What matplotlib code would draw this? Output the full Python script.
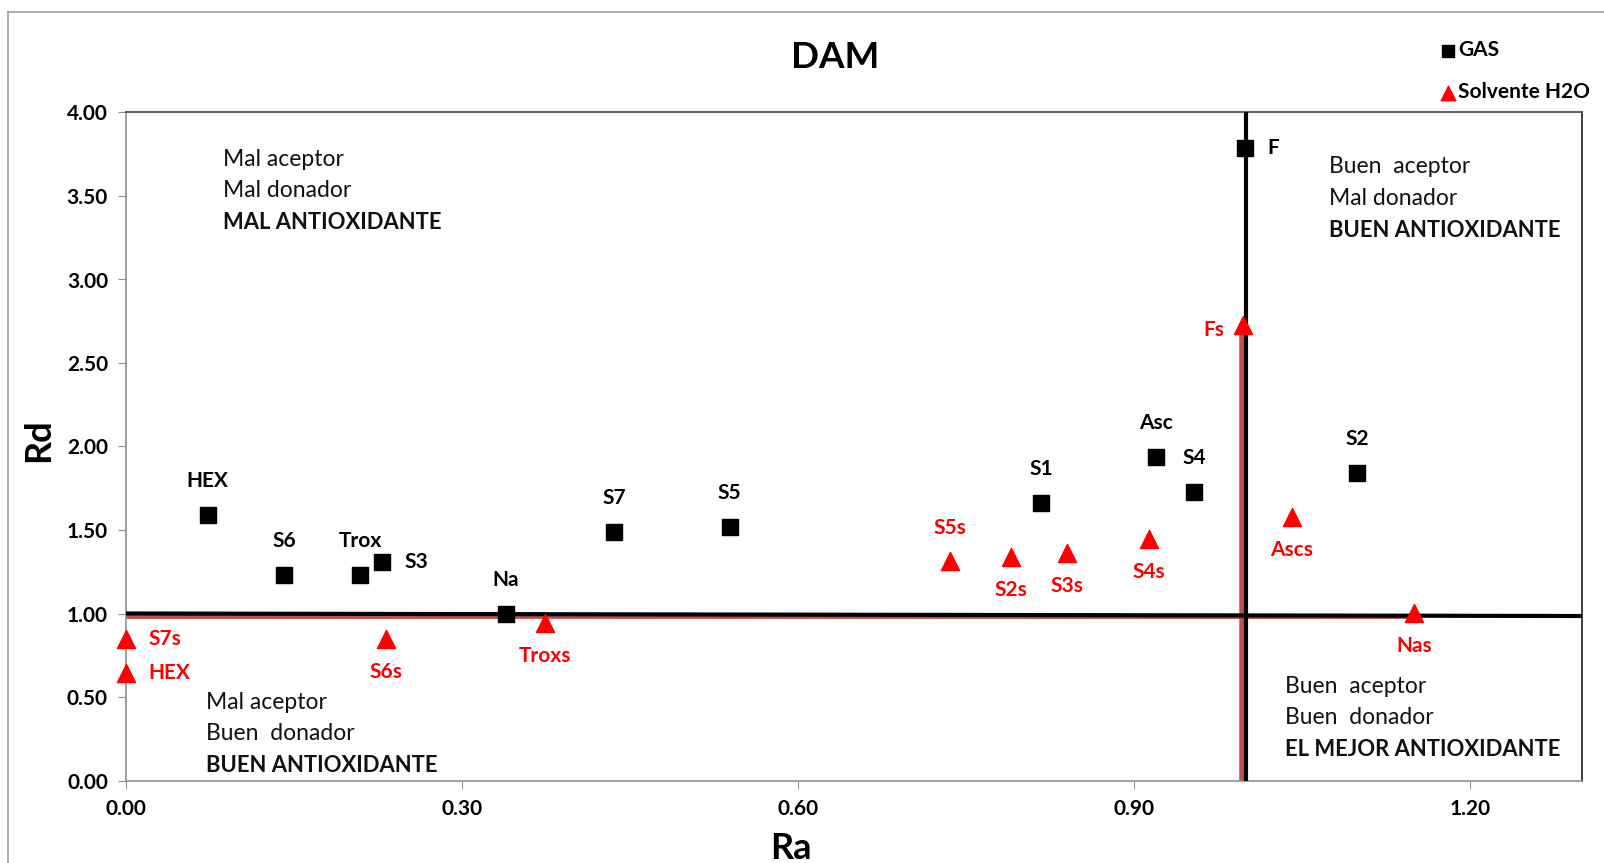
import matplotlib
matplotlib.use('Agg')
import matplotlib.pyplot as plt
from matplotlib.lines import Line2D

plt.rcParams['font.family'] = ['Lato', 'DejaVu Sans']

# datos (Ra, Rd)
gas_names = ['HEX', 'S6', 'Trox', 'S3', 'Na', 'S7', 'S5', 'S1', 'Asc', 'S4', 'S2', 'F']
gas_ra = [0.073, 0.141, 0.209, 0.229, 0.339, 0.436, 0.539, 0.817, 0.920, 0.954, 1.099, 0.999]
gas_rd = [1.59, 1.23, 1.23, 1.31, 1.00, 1.49, 1.52, 1.66, 1.94, 1.73, 1.84, 3.79]

h2o_names = ['S7s', 'HEX', 'S6s', 'Troxs', 'S5s', 'S2s', 'S3s', 'S4s', 'Ascs', 'Nas', 'Fs']
h2o_ra = [0.0, 0.0, 0.232, 0.374, 0.736, 0.790, 0.840, 0.913, 1.041, 1.150, 0.997]
h2o_rd = [0.845, 0.643, 0.845, 0.943, 1.317, 1.341, 1.360, 1.446, 1.580, 1.005, 2.726]

x_ticks = [0.0, 0.3, 0.6, 0.9, 1.2]
y_ticks = [0.0, 0.5, 1.0, 1.5, 2.0, 2.5, 3.0, 3.5, 4.0]

# posicion de las etiquetas (offset en pixeles)
gas_off = {'S3': (22, 0, 'left'), 'F': (22, 0, 'left')}
h2o_off = {'S7s': (22, 0, 'left'), 'HEX': (22, 0, 'left'),
           'S5s': (0, 33, 'center'), 'Fs': (-18, -5, 'right')}

fig = plt.figure(figsize=(16.04, 8.63), dpi=100)
ax = fig.add_axes([126 / 1604, 1 - 780.5 / 863, (1582 - 126) / 1604, (780.5 - 112.5) / 863])

# marco exterior
fig.add_artist(Line2D([8 / 1604, 8 / 1604], [0, 1 - 12 / 863], transform=fig.transFigure,
                      color='#a0a0a0', lw=1.2))
fig.add_artist(Line2D([8 / 1604, 1], [1 - 12 / 863, 1 - 12 / 863], transform=fig.transFigure,
                      color='#a0a0a0', lw=1.2))

# lineas de referencia Ra=1, Rd=1
ax.plot([0, 1.15], [0.985, 0.985], color='#b83030', lw=3.5, zorder=2, alpha=0.85)
ax.plot([0.996, 0.996], [0, 2.72], color='#b83030', lw=4, zorder=2, alpha=0.85)
ax.plot([0, 1.3], [1.0, 0.985], color='black', lw=3, zorder=3)
ax.plot([1.0, 1.0], [0, 4.0], color='black', lw=3, zorder=3)

ax.scatter(gas_ra, gas_rd, marker='s', s=130, color='black', zorder=5, label='GAS')
ax.scatter(h2o_ra, h2o_rd, marker='^', s=170, color='#ff0000', zorder=5, label='Solvente H2O',
           clip_on=False)

for n, x, y in zip(gas_names, gas_ra, gas_rd):
    dx, dy, ha = gas_off.get(n, (0, 34, 'center'))
    ax.annotate(n, (x, y), xytext=(dx, dy), textcoords='offset pixels', ha=ha, va='center',
                fontsize=15, fontweight='bold', color='black')
for n, x, y in zip(h2o_names, h2o_ra, h2o_rd):
    dx, dy, ha = h2o_off.get(n, (0, -33, 'center'))
    ax.annotate(n, (x, y), xytext=(dx, dy), textcoords='offset pixels', ha=ha, va='center',
                fontsize=15, fontweight='bold', color='#ff0000')

# textos de cuadrantes
quad = [
    (0.087, [3.72, 3.53, 3.34], ['Mal aceptor', 'Mal donador', 'MAL ANTIOXIDANTE']),
    (1.074, [3.675, 3.485, 3.295], ['Buen  aceptor', 'Mal donador', 'BUEN ANTIOXIDANTE']),
    (0.071, [0.47, 0.28, 0.09], ['Mal aceptor', 'Buen  donador', 'BUEN ANTIOXIDANTE']),
    (1.035, [0.565, 0.375, 0.185], ['Buen  aceptor', 'Buen  donador', 'EL MEJOR ANTIOXIDANTE']),
]
for x, ys, txts in quad:
    for i, (y, t) in enumerate(zip(ys, txts)):
        ax.text(x, y, t, fontsize=15.8 if i == 2 else 16.5, va='center', ha='left',
                color='#111111', fontweight='bold' if i == 2 else 'normal')

ax.set_xlim(0, 1.3)
ax.set_ylim(0, 4.0)
ax.set_xticks(x_ticks)
ax.set_yticks(y_ticks)
ax.set_xticklabels([f'{v:.2f}' for v in x_ticks], fontweight='bold', fontsize=15)
ax.set_yticklabels([f'{v:.2f}' for v in y_ticks], fontweight='bold', fontsize=15)
ax.tick_params(axis='both', direction='out', length=6, color='#909090', pad=7)

for s in ['left', 'bottom']:
    ax.spines[s].set_color('#909090')
    ax.spines[s].set_linewidth(1.2)
ax.spines['top'].set_color('#505050')
ax.spines['right'].set_color('#303030')
ax.spines['top'].set_linewidth(1.3)
ax.spines['right'].set_linewidth(1.3)

fig.text(791 / 1604, 1 - 848 / 863, 'Ra', fontsize=26, fontweight='bold', ha='center', va='center')
fig.text(39 / 1604, 1 - 440 / 863, 'Rd', fontsize=26, fontweight='bold', ha='center', va='center',
         rotation=90)
fig.text(835 / 1604, 1 - 57 / 863, 'DAM', fontsize=26.5, fontweight='bold', ha='center', va='center')

h, l = ax.get_legend_handles_labels()
fig.legend(h, l, loc='upper left', bbox_to_anchor=(1428 / 1604, 1 - 30 / 863), frameon=False,
           prop={'weight': 'bold', 'size': 15}, handletextpad=0.05, labelspacing=1.05,
           handlelength=0.9, markerscale=0.8, borderpad=0)

fig.savefig('out.png', dpi=100)
